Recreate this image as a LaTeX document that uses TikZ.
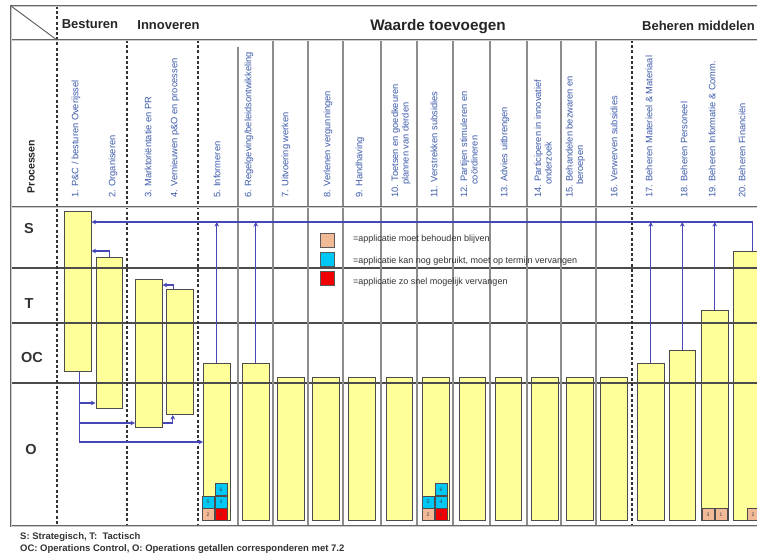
\documentclass[tikz,border=0pt]{standalone}
\usepackage{fontspec}
\setmainfont{Liberation Sans}
\usetikzlibrary{arrows.meta}
\definecolor{connblue}{RGB}{70,70,185}
\definecolor{lblblue}{RGB}{60,90,170}
\definecolor{barfill}{RGB}{255,255,153}
\definecolor{apptan}{RGB}{242,185,150}
\definecolor{appcyan}{RGB}{0,200,245}
\definecolor{appred}{RGB}{240,0,0}
\begin{document}
\begin{tikzpicture}[x=1pt,y=-1pt,
  bar/.style={draw=black!70, fill=barfill, line width=1pt, minimum width=26.5pt, inner sep=0pt, anchor=north west},
  rowline/.style={draw=black!70, line width=1.1pt},
  colline/.style={draw=black!45, line width=1.3pt},
  dashline/.style={draw=black!80, line width=1.4pt, dash pattern=on 3pt off 2.2pt},
  frameline/.style={draw=black!60, double=black!20, double distance=0.9pt, line width=0.7pt},
  conn/.style={draw=connblue, line width=1.4pt},
  arr/.style={conn, -{Stealth[length=4.5pt,width=4.5pt]}},
  collabel/.style={rotate=90, anchor=west, inner sep=0pt, text=lblblue, font=\fontsize{9.3}{10.5}\selectfont, align=left},
  hdr/.style={font=\bfseries\fontsize{13}{15}\selectfont, text=black!85, inner sep=0pt},
  rowlabel/.style={font=\bfseries\fontsize{14.5}{16}\selectfont, text=black!80, inner sep=0pt},
  appbox/.style={draw=black!70, line width=0.6pt, minimum size=12pt, inner sep=0pt, font=\fontsize{5}{5}\selectfont, text=black!75},
  legbox/.style={draw=black!65, line width=0.8pt, minimum size=14pt, inner sep=0pt},
  legtext/.style={anchor=west, inner sep=0pt, font=\fontsize{9}{10}\selectfont, text=black!80},
  foot/.style={anchor=west, inner sep=0pt, font=\bfseries\fontsize{9.5}{11}\selectfont, text=black!80}
]
\useasboundingbox (0,0) rectangle (757,558);
\fill[white] (0,0) rectangle (757,558);
\clip (0,0) rectangle (757,558);

% bars
\foreach \n/\x/\t/\b in {1/64/211/371, 2/95.5/257/408, 3/135/279/427, 4/166/289/414,
  5/203/363/520, 6/242/363/520, 7/277/377/520, 8/312/377/520, 9/348/377/520,
  10/385.5/377/520, 11/422/377/520, 12/458.5/377/520, 13/494.5/377/520, 14/531/377/520,
  15/566/377/520, 16/600/377/520, 17/637/363/520, 18/668.5/350/520, 19/701/310/520, 20/733/251/520}
  {\node[bar, minimum height={\b-\t}] (b\n) at (\x,\t) {};}

% grid
\foreach \y in {268,323,383} \draw[rowline] (11,\y) -- (770,\y);
\draw[colline] (238,47) -- (238,526);
\foreach \x in {273,308,343,381,417,453,490,527,561,596} \draw[colline] (\x,40) -- (\x,526);
\draw[dashline] (57,6) -- (57,526);
\foreach \x in {127,198,632} \draw[dashline] (\x,40) -- (\x,526);
\draw[frameline] (11,40) -- (770,40);
\draw[frameline] (11,207) -- (770,207);
\draw[frameline] (770,6) -- (11,6) -- (11,526) -- (770,526);
\draw[draw=black!65, line width=0.9pt] (11,6) -- (57,40);

% connectors
\coordinate (ytop) at (0,222);
\coordinate (yb2) at (0,251);
\coordinate (yb4) at (0,285);
\coordinate (ylow) at (0,442);
\coordinate (ym2) at (0,403);
\coordinate (ym3) at (0,423);
\draw[arr] ([xshift=6pt]b20.north) |- (b1.east |- ytop);
\foreach \k in {5,6,17,18,19} \draw[arr] (b\k.north) -- (b\k.north |- ytop);
\draw[arr] (b2.north) |- (b1.east |- yb2);
\draw[arr] ([xshift=-6pt]b4.north) |- (b3.east |- yb4);
\draw[arr] ([xshift=1.5pt]b1.south) |- (b5.west |- ylow);
\draw[arr] ([xshift=1.5pt]b1.south |- ym2) -- (b2.west |- ym2);
\draw[arr] ([xshift=1.5pt]b1.south |- ym3) -- (b3.west |- ym3);
\draw[arr] (b3.east |- ym3) -| ([xshift=-7pt]b4.south);

% application boxes
\node[appbox, fill=apptan] (a5a) at (208,514.5) {2};
\node[appbox, fill=appred] (a5b) at (221,514.5) {1};
\node[appbox, fill=appcyan] (a5c) at (208,502) {5};
\node[appbox, fill=appcyan] (a5d) at (221,502) {4};
\node[appbox, fill=appcyan] (a5e) at (221,489.5) {6};
\node[appbox, fill=apptan] (a11a) at (428,514.5) {2};
\node[appbox, fill=appred] (a11b) at (441,514.5) {1};
\node[appbox, fill=appcyan] (a11c) at (428,502) {5};
\node[appbox, fill=appcyan] (a11d) at (441,502) {4};
\node[appbox, fill=appcyan] (a11e) at (441,489.5) {6};
\node[appbox, fill=apptan] (a19a) at (708,514.5) {3};
\node[appbox, fill=apptan] (a19b) at (721,514.5) {1};
\node[appbox, fill=apptan] (a20a) at (753,514.5) {2};

% legend
\node[legbox, fill=apptan] (l1) at (327,240) {};
\node[legbox, fill=appcyan] (l2) at (327,259) {};
\node[legbox, fill=appred] (l3) at (327,278) {};
\node[legtext] (lt1) at (353,239) {=applicatie moet behouden blijven};
\node[legtext] (lt2) at (353,261) {=applicatie kan nog gebruikt, moet op termijn vervangen};
\node[legtext] (lt3) at (353,282) {=applicatie zo snel mogelijk vervangen};

% header
\node[hdr] (h1) at (90,24) {Besturen};
\node[hdr] (h2) at (168.5,25) {Innoveren};
\node[hdr, font=\bfseries\fontsize{15.3}{17}\selectfont] (h3) at (438,26.5) {Waarde toevoegen};
\node[hdr] (h4) at (698.5,25.5) {Beheren middelen};
\node[rotate=90, font=\bfseries\fontsize{10.5}{12}\selectfont, text=black!85, inner sep=0pt] (proc) at (31,166.5) {Processen};

% column labels
\node[collabel] (c1) at (76,198) {1. P\&C / besturen Overijssel};
\node[collabel] (c2) at (113,198) {2. Organiseren};
\node[collabel] (c3) at (148,198) {3. Marktoriëntatie en PR};
\node[collabel] (c4) at (175,198) {4. Vernieuwen p\&O en processen};
\node[collabel] (c5) at (217,198) {5. Informeren};
\node[collabel] (c6) at (249,198) {6. Regelgeving/beleidsontwikkeling};
\node[collabel] (c7) at (286,198) {7. Uitvoering werken};
\node[collabel] (c8) at (328,198) {8. Verlenen vergunningen};
\node[collabel] (c9) at (360,198) {9. Handhaving};
\node[collabel] (c10) at (401,198) {10. Toetsen en goedkeuren\\\hspace*{13pt}plannen van derden};
\node[collabel] (c11) at (434,198) {11. Verstrekken subsidies};
\node[collabel] (c12) at (469,198) {12. Partijen  stimuleren en\\\hspace*{13pt}coördineren};
\node[collabel] (c13) at (505,198) {13. Advies uitbrengen};
\node[collabel] (c14) at (543,198) {14. Participeren in innovatief\\\hspace*{13pt}onderzoek};
\node[collabel] (c15) at (575.5,198) {15. Behandelen bezwaren en\\\hspace*{13pt}beroepen};
\node[collabel] (c16) at (614,198) {16. Verwerven subsidies};
\node[collabel] (c17) at (649,198) {17. Beheren Materieel \& Materiaal};
\node[collabel] (c18) at (684,198) {18. Beheren Personeel};
\node[collabel] (c19) at (712,198) {19. Beheren Informatie \& Comm.};
\node[collabel] (c20) at (742,198) {20. Beheren Financiën};

% row labels
\node[rowlabel] (rs) at (29,229) {S};
\node[rowlabel] (rt) at (29,304) {T};
\node[rowlabel] (roc) at (32,357) {OC};
\node[rowlabel] (ro) at (31,449) {O};

% footer
\node[foot] (f1) at (20,537) {S: Strategisch, T:\ \ Tactisch};
\node[foot] (f2) at (20,549) {OC: Operations Control, O: Operations getallen corresponderen met 7.2};
\end{tikzpicture}
\end{document}
